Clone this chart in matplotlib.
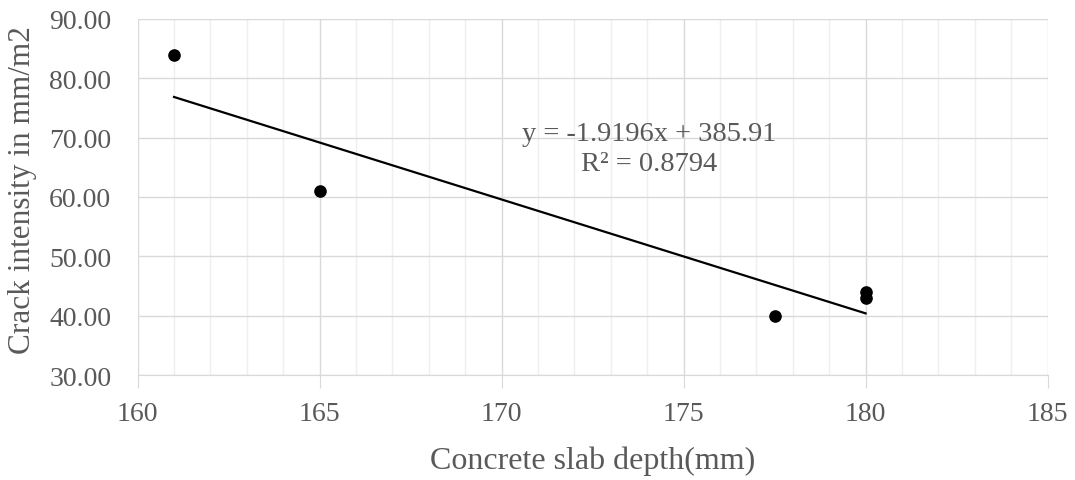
import numpy as np
import matplotlib
matplotlib.use("Agg")
import matplotlib.pyplot as plt
from matplotlib.ticker import MultipleLocator, FormatStrFormatter

depth = [161, 165, 177.5, 180, 180]
crack = [84, 61, 40, 44, 43]
eq_text = "y = -1.9196x + 385.91"
r2_text = "R² = 0.8794"

plt.rcParams['font.family'] = ['Liberation Serif', 'DejaVu Serif']

W, H = 1075, 481
fig = plt.figure(figsize=(W/100, H/100), dpi=100)
ax = fig.add_axes([137.6/W, 1-376/H, (1047.6-137.6)/W, (376-20)/H])

x = np.array(depth, dtype=float)
y = np.array(crack, dtype=float)
m, b = np.polyfit(x, y, 1)
xs = np.array([x.min(), x.max()])
ax.plot(xs, m*xs + b, color='black', lw=1.6, zorder=3)
ax.scatter(x, y, s=65, color='black', zorder=4)

ax.set_xlim(160, 185)
ax.set_ylim(30, 90)
ax.xaxis.set_major_locator(MultipleLocator(5))
ax.xaxis.set_minor_locator(MultipleLocator(1))
ax.yaxis.set_major_locator(MultipleLocator(10))
ax.yaxis.set_major_formatter(FormatStrFormatter('%.2f'))
ax.grid(which='major', color='#d9d9d9', lw=1)
ax.grid(which='minor', axis='x', color='#efefef', lw=1)
ax.set_axisbelow(True)
for s in ['top', 'right', 'left']:
    ax.spines[s].set_visible(False)
ax.spines['bottom'].set_color('#d9d9d9')
ax.tick_params(axis='x', which='major', length=9, color='#d9d9d9', labelsize=20, labelcolor='#595959', pad=10)
ax.tick_params(axis='x', which='minor', length=0)
ax.tick_params(axis='y', length=0, labelsize=20, labelcolor='#595959', pad=19)

ax.set_xlabel('Concrete slab depth(mm)', fontsize=23, color='#595959', labelpad=14)
fig.text(23/W, 1-190/H, 'Crack intensity in mm/m2', fontsize=22.5, color='#595959',
         rotation=90, ha='center', va='center')

ax.text(174.05, 70.7, eq_text, fontsize=20.5, color='#595959', ha='center', va='center')
ax.text(174.05, 65.6, r2_text, fontsize=20.5, color='#595959', ha='center', va='center')

fig.savefig('out.png', dpi=100)
